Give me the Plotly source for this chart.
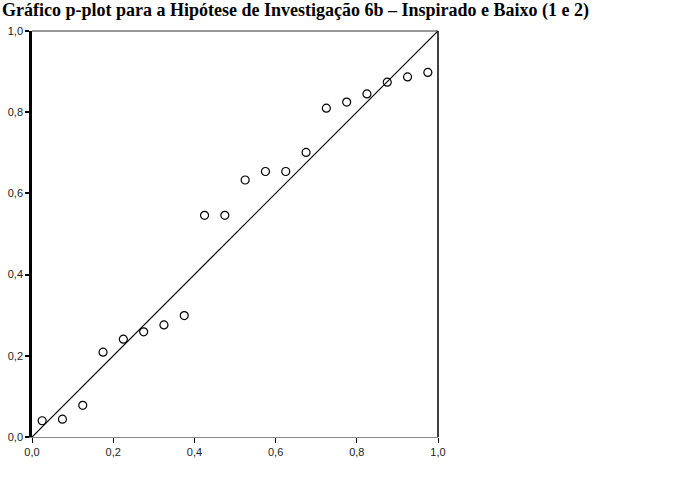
import plotly.graph_objects as go

title_text = "Gráfico p-plot para a Hipótese de Investigação 6b – Inspirado e Baixo (1 e 2)"
observed_cum_prob = [0.025, 0.075, 0.125, 0.175, 0.225, 0.275, 0.325, 0.375, 0.425, 0.475,
                     0.525, 0.575, 0.625, 0.675, 0.725, 0.775, 0.825, 0.875, 0.925, 0.975]
expected_cum_prob = [0.040, 0.044, 0.078, 0.209, 0.241, 0.259, 0.276, 0.299, 0.546, 0.546,
                     0.633, 0.654, 0.654, 0.701, 0.810, 0.825, 0.845, 0.874, 0.887, 0.898]
ref_line_x = [0.0, 1.0]
ref_line_y = [0.0, 1.0]
tick_vals = [0.0, 0.2, 0.4, 0.6, 0.8, 1.0]

fig = go.Figure()
fig.add_trace(go.Scatter(x=ref_line_x, y=ref_line_y, mode="lines",
                         line=dict(color="black", width=1.2), hoverinfo="skip"))
fig.add_trace(go.Scatter(x=observed_cum_prob, y=expected_cum_prob, mode="markers",
                         marker=dict(symbol="circle-open", size=8, color="black",
                                     line=dict(width=1.2, color="black"))))

# thin top and right frame
fig.add_shape(type="line", xref="paper", yref="paper", x0=0, x1=1, y0=1, y1=1,
              line=dict(color="#333333", width=1))
fig.add_shape(type="line", xref="paper", yref="paper", x0=1, x1=1, y0=0, y1=1,
              line=dict(color="black", width=1.5))

fig.update_layout(
    width=682, height=489,
    margin=dict(l=32, r=244, t=31, b=52, autoexpand=False),
    paper_bgcolor="white", plot_bgcolor="white",
    showlegend=False,
    separators=",.",
    title=dict(text=title_text, x=0.003, xanchor="left", xref="container",
               y=1.0, yanchor="top", yref="container", pad=dict(t=3, l=0),
               font=dict(family="Liberation Serif", size=18, color="black", weight="bold")),
    font=dict(family="Liberation Sans", size=11, color="#222222"),
    xaxis=dict(range=[0, 1], tickvals=tick_vals, tickformat=".1f", automargin=False,
               showgrid=False, zeroline=False, showline=True, linecolor="#888888",
               linewidth=1, ticks="outside", ticklen=5, tickcolor="black", tickwidth=1,
               fixedrange=True),
    yaxis=dict(range=[0, 1], tickvals=tick_vals, tickformat=".1f", automargin=False,
               showgrid=False, zeroline=False, showline=True, linecolor="black",
               linewidth=2.5, ticks="outside", ticklen=4, tickcolor="black", tickwidth=1.5,
               fixedrange=True),
)

fig.write_html("out.html")
